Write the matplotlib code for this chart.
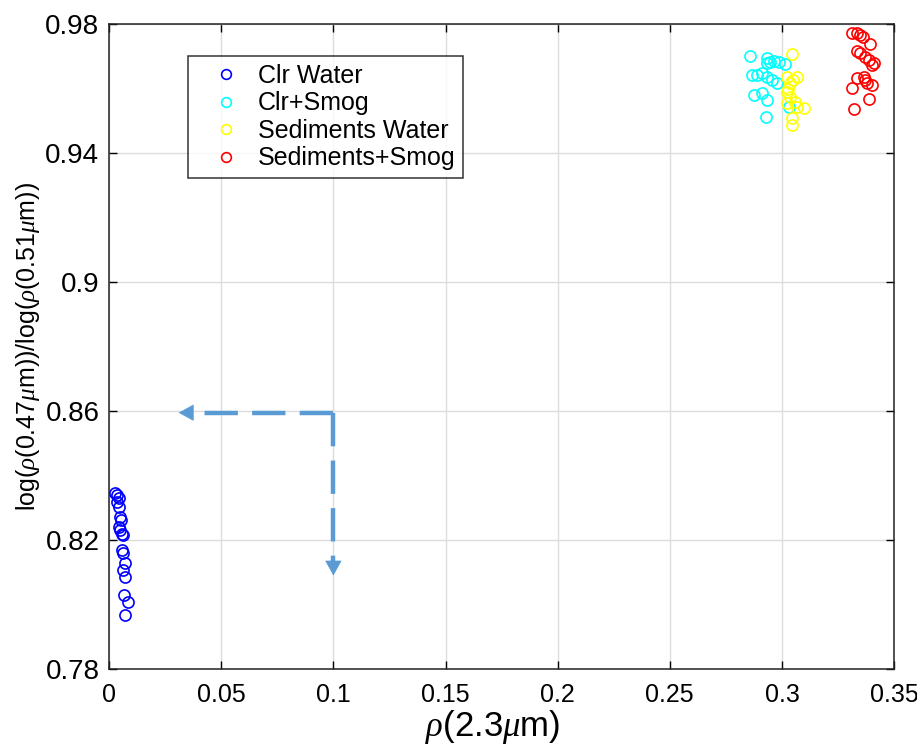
import matplotlib
matplotlib.use("Agg")
import matplotlib.pyplot as plt

plt.rcParams['font.family'] = ['Liberation Sans', 'DejaVu Sans']
plt.rcParams['mathtext.fontset'] = 'custom'
plt.rcParams['mathtext.it'] = 'Liberation Serif:italic'
plt.rcParams['mathtext.rm'] = 'Liberation Sans'

# ---- data ----
clr_water_x = [0.0027, 0.0035, 0.0042, 0.0035, 0.0046, 0.0049, 0.0052, 0.0042, 0.0049,
               0.0056, 0.0064, 0.0056, 0.0064, 0.0071, 0.0064, 0.0071, 0.0068, 0.0082, 0.0071]
clr_water_y = [0.8345, 0.8340, 0.8330, 0.8319, 0.8303, 0.8272, 0.8262, 0.8241, 0.8231,
               0.8220, 0.8215, 0.8169, 0.8160, 0.8129, 0.8107, 0.8086, 0.8029, 0.8009, 0.7967]

clr_smog_x = [0.2858, 0.2933, 0.2948, 0.2963, 0.2985, 0.3015, 0.2933, 0.2866, 0.2889,
              0.2911, 0.2933, 0.2956, 0.2978, 0.2874, 0.2911, 0.2933, 0.2930, 0.3030]
clr_smog_y = [0.9701, 0.9694, 0.9683, 0.9686, 0.9681, 0.9676, 0.9678, 0.9642, 0.9642,
              0.9647, 0.9637, 0.9626, 0.9618, 0.9580, 0.9585, 0.9564, 0.9511, 0.9544]

sed_water_x = [0.3045, 0.3023, 0.3067, 0.3037, 0.3023, 0.3037, 0.3060, 0.3097, 0.3045,
               0.3045, 0.3067, 0.3023, 0.3028, 0.3050]
sed_water_y = [0.9707, 0.9637, 0.9637, 0.9616, 0.9590, 0.9575, 0.9559, 0.9539, 0.9508,
               0.9487, 0.9544, 0.9554, 0.9600, 0.9626]

sed_smog_x = [0.3312, 0.3335, 0.3349, 0.3361, 0.3394, 0.3335, 0.3349, 0.3372, 0.3386,
              0.3409, 0.3402, 0.3335, 0.3364, 0.3372, 0.3379, 0.3402, 0.3312, 0.3386, 0.3320]
sed_smog_y = [0.9773, 0.9771, 0.9766, 0.9761, 0.9738, 0.9717, 0.9709, 0.9699, 0.9688,
              0.9680, 0.9673, 0.9632, 0.9637, 0.9626, 0.9616, 0.9611, 0.9601, 0.9567, 0.9536]

series = [
    ("Clr Water", clr_water_x, clr_water_y, "#0000ff"),
    ("Clr+Smog", clr_smog_x, clr_smog_y, "#00ffff"),
    ("Sediments Water", sed_water_x, sed_water_y, "#ffff00"),
    ("Sediments+Smog", sed_smog_x, sed_smog_y, "#ff0000"),
]

# dashed guide arrows: corner at (0.1, 0.86)
corner = (0.1, 0.8595)
h_tip = (0.031, 0.8595)
v_tip = (0.1, 0.809)
arrow_color = "#5b9bd5"

fig = plt.figure(figsize=(9.17, 7.51), dpi=100)
ax = fig.add_axes([0.119, 0.109, 0.856, 0.859])

for label, xs, ys, c in series:
    ax.plot(xs, ys, 'o', mfc='none', mec=c, ms=8, mew=1.2, label=label, ls='none')

# guide lines
ax.plot([corner[0], h_tip[0] + 0.006], [corner[1], h_tip[1]], color=arrow_color,
        lw=3.2, dashes=(7.5, 3.2), dash_capstyle='butt')
ax.plot([corner[0], v_tip[0]], [corner[1], v_tip[1] + 0.004], color=arrow_color,
        lw=3.2, dashes=(7.5, 3.2), dash_capstyle='butt')
for tip, base in [(h_tip, (h_tip[0] + 0.0055, h_tip[1])),
                  (v_tip, (v_tip[0], v_tip[1] + 0.004))]:
    ax.annotate('', xy=tip, xytext=base,
                arrowprops=dict(arrowstyle='-|>,head_length=1.0,head_width=0.55',
                                color=arrow_color, lw=0.5, shrinkA=0, shrinkB=0))

ax.set_xlim(0, 0.35)
ax.set_ylim(0.78, 0.98)
ax.set_xticks([0, 0.05, 0.1, 0.15, 0.2, 0.25, 0.3, 0.35])
ax.set_xticklabels(['0', '0.05', '0.1', '0.15', '0.2', '0.25', '0.3', '0.35'])
ax.set_yticks([0.78, 0.82, 0.86, 0.9, 0.94, 0.98])
ax.set_yticklabels(['0.78', '0.82', '0.86', '0.9', '0.94', '0.98'])
ax.grid(True, color='#dcdcdc', lw=1)
ax.set_axisbelow(True)
ax.tick_params(direction='in', top=True, right=True, length=6, width=1)
ax.tick_params(axis='x', labelsize=18, pad=10)
ax.tick_params(axis='y', labelsize=20, pad=7)
for s in ax.spines.values():
    s.set_linewidth(1.1)
    s.set_color('#222222')

ax.set_xlabel(r'$\rho$(2.3$\mu$m)', fontsize=25, labelpad=0)
ax.xaxis.set_label_coords(0.488, -0.06, transform=ax.transAxes)
ax.xaxis.label.set_va('top')
ax.set_ylabel(r'log($\rho$(0.47$\mu$m))/log($\rho$(0.51$\mu$m))', fontsize=18, labelpad=2)

leg = ax.legend(loc='upper left', bbox_to_anchor=(0.1006, 0.950), fontsize=18,
                frameon=True, fancybox=False, borderpad=0.3, labelspacing=0.14,
                handletextpad=0.1, handlelength=2.4, borderaxespad=0)
leg.get_frame().set_edgecolor('black')
leg.get_frame().set_linewidth(1.1)
for h in leg.legend_handles:
    h.set_markersize(7)

fig.savefig("out.png", dpi=100)
